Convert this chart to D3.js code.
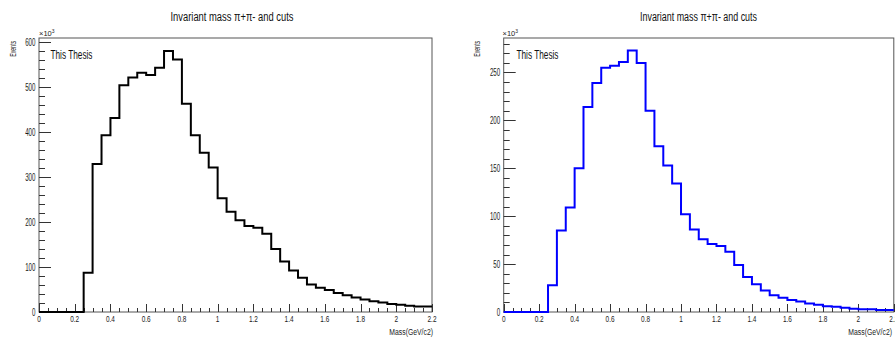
<!DOCTYPE html>
<html>
<head>
<meta charset="utf-8">
<script src="https://cdn.jsdelivr.net/npm/d3@7/dist/d3.min.js"></script>
<style>
  body { margin: 0; background: #fff; }
  svg { display: block; }
  text { font-family: "Liberation Sans", Arial, sans-serif; }
</style>
</head>
<body>
<svg id="chart" width="895" height="340"></svg>
<script>
// Binning of the invariant-mass histograms (GeV/c2)
const binStart = 0;
const binWidth = 0.05;

// Events per bin (x10^3), all pairs
const countsAll = [
  0, 0, 0, 0, 0,
  87, 329, 393, 431, 504, 521, 532, 527, 543, 580,
  561, 463, 393, 354, 321, 253, 223, 204, 191, 187,
  174, 140, 112, 92, 76, 61, 54, 49, 42, 37,
  32, 28, 24, 21, 18, 16, 14, 12, 12
];

// Events per bin (x10^3), after cuts
const countsCut = [
  0, 0, 0, 0, 0,
  28, 85, 109, 150, 214, 239, 255, 257, 261, 273,
  260, 210, 173, 153, 134, 102, 86, 76, 71, 69,
  63, 49, 36.5, 29, 22.5, 17.5, 15, 12.5, 11, 9,
  7.5, 6, 5.5, 4.5, 3.5, 3, 3, 2, 2
];

// Axis ticks and labels
const xMajorTicks = [0, 0.2, 0.4, 0.6, 0.8, 1, 1.2, 1.4, 1.6, 1.8, 2, 2.2];
const xTickLabels = ["0", "0.2", "0.4", "0.6", "0.8", "1", "1.2", "1.4", "1.6", "1.8", "2", "2.2"];
const yTicksAll = [0, 100, 200, 300, 400, 500, 600];
const yTicksCut = [0, 50, 100, 150, 200, 250];

const titleText = "Invariant mass \u03c0+\u03c0- and cuts";
const xTitle = "Mass(GeV/c2)";
const yTitle = "Events";
const stampText = "This Thesis";

const svg = d3.select("#chart");

const panels = [
  {
    counts: countsAll, color: "#000000", yTicks: yTicksAll, yMinor: 20, yMax: 609,
    left: 39, right: 432, top: 38, bottom: 312,
    titleX: 232, titleW: 123, stampX: 50.5, eventsX: 16, x10X: 39, xTitleEnd: 433
  },
  {
    counts: countsCut, color: "#0000ff", yTicks: yTicksCut, yMinor: 10, yMax: 286,
    left: 503.7, right: 893.8, top: 38, bottom: 312,
    titleX: 698.5, titleW: 117, stampX: 516.5, eventsX: 479.5, x10X: 502.5, xTitleEnd: 892
  }
];

// text helper with horizontal compression
function label(g, x, y, str, size, sx, anchor, fill) {
  return g.append("text")
    .attr("transform", `translate(${x},${y}) scale(${sx},1)`)
    .attr("text-anchor", anchor)
    .attr("font-size", size)
    .attr("fill", fill || "#1a1a1a")
    .text(str);
}

panels.forEach(p => {
  const g = svg.append("g");
  const x = d3.scaleLinear().domain([0, 2.2]).range([p.left, p.right]);
  const y = d3.scaleLinear().domain([0, p.yMax]).range([p.bottom, p.top]);

  // frame
  g.append("rect")
    .attr("x", p.left).attr("y", p.top)
    .attr("width", p.right - p.left).attr("height", p.bottom - p.top)
    .attr("fill", "none").attr("stroke", "#555").attr("stroke-width", 1);

  // y axis ticks (inside the frame)
  const yMinorTicks = d3.range(0, p.yMax, p.yMinor);
  g.selectAll(".ymin").data(yMinorTicks).join("line")
    .attr("x1", p.left).attr("x2", d => p.left + (p.yTicks.includes(d) ? 12 : 6))
    .attr("y1", d => Math.round(y(d)) + 0.5).attr("y2", d => Math.round(y(d)) + 0.5)
    .attr("stroke", "#333").attr("stroke-width", 1);

  p.yTicks.forEach(t => {
    label(g, p.left - 3.5, y(t) + 3.5, String(t), 10, 0.62, "end");
  });

  // x axis ticks (pointing up)
  const xMinorTicks = d3.range(0, 44 + 1).map(i => binStart + i * binWidth);
  g.selectAll(".xmin").data(xMinorTicks).join("line")
    .attr("x1", d => Math.round(x(d)) + 0.5).attr("x2", d => Math.round(x(d)) + 0.5)
    .attr("y1", p.bottom)
    .attr("y2", (d, i) => p.bottom - (i % 4 === 0 ? 8 : 4))
    .attr("stroke", "#333").attr("stroke-width", 1);

  xMajorTicks.forEach((t, i) => {
    label(g, x(t), 322, xTickLabels[i], 9.5, 0.68, "middle");
  });

  // histogram outline
  const pts = p.counts.map((c, i) => [binStart + i * binWidth, c]);
  pts.push([binStart + p.counts.length * binWidth, p.counts[p.counts.length - 1]]);
  const line = d3.line()
    .x(d => x(d[0])).y(d => y(d[1]))
    .curve(d3.curveStepAfter);
  g.append("path")
    .attr("d", line(pts))
    .attr("fill", "none")
    .attr("stroke", p.color)
    .attr("stroke-width", 2);

  // title
  g.append("text")
    .attr("x", p.titleX).attr("y", 21)
    .attr("text-anchor", "middle")
    .attr("font-size", 12.5)
    .attr("fill", "#111")
    .attr("textLength", p.titleW)
    .attr("lengthAdjust", "spacingAndGlyphs")
    .text(titleText);

  // stamp
  g.append("text")
    .attr("x", p.stampX).attr("y", 58.7)
    .attr("font-size", 13)
    .attr("fill", "#111")
    .attr("textLength", 42)
    .attr("lengthAdjust", "spacingAndGlyphs")
    .text(stampText);

  // y title
  g.append("text")
    .attr("transform", `translate(${p.eventsX},56.8) rotate(-90)`)
    .attr("font-size", 9)
    .attr("fill", "#222")
    .attr("textLength", 16)
    .attr("lengthAdjust", "spacingAndGlyphs")
    .text(yTitle);

  // exponent marker
  const ex = g.append("text")
    .attr("x", p.x10X).attr("y", 35.5)
    .attr("font-size", 7.5)
    .attr("fill", "#222");
  ex.append("tspan").text("\u00d710");
  ex.append("tspan").attr("dy", -3).attr("font-size", 5).text("3");

  // x title, horizontally compressed
  label(g, p.xTitleEnd, 334.5, xTitle, 9, 0.76, "end", "#222");
});
</script>
</body>
</html>
